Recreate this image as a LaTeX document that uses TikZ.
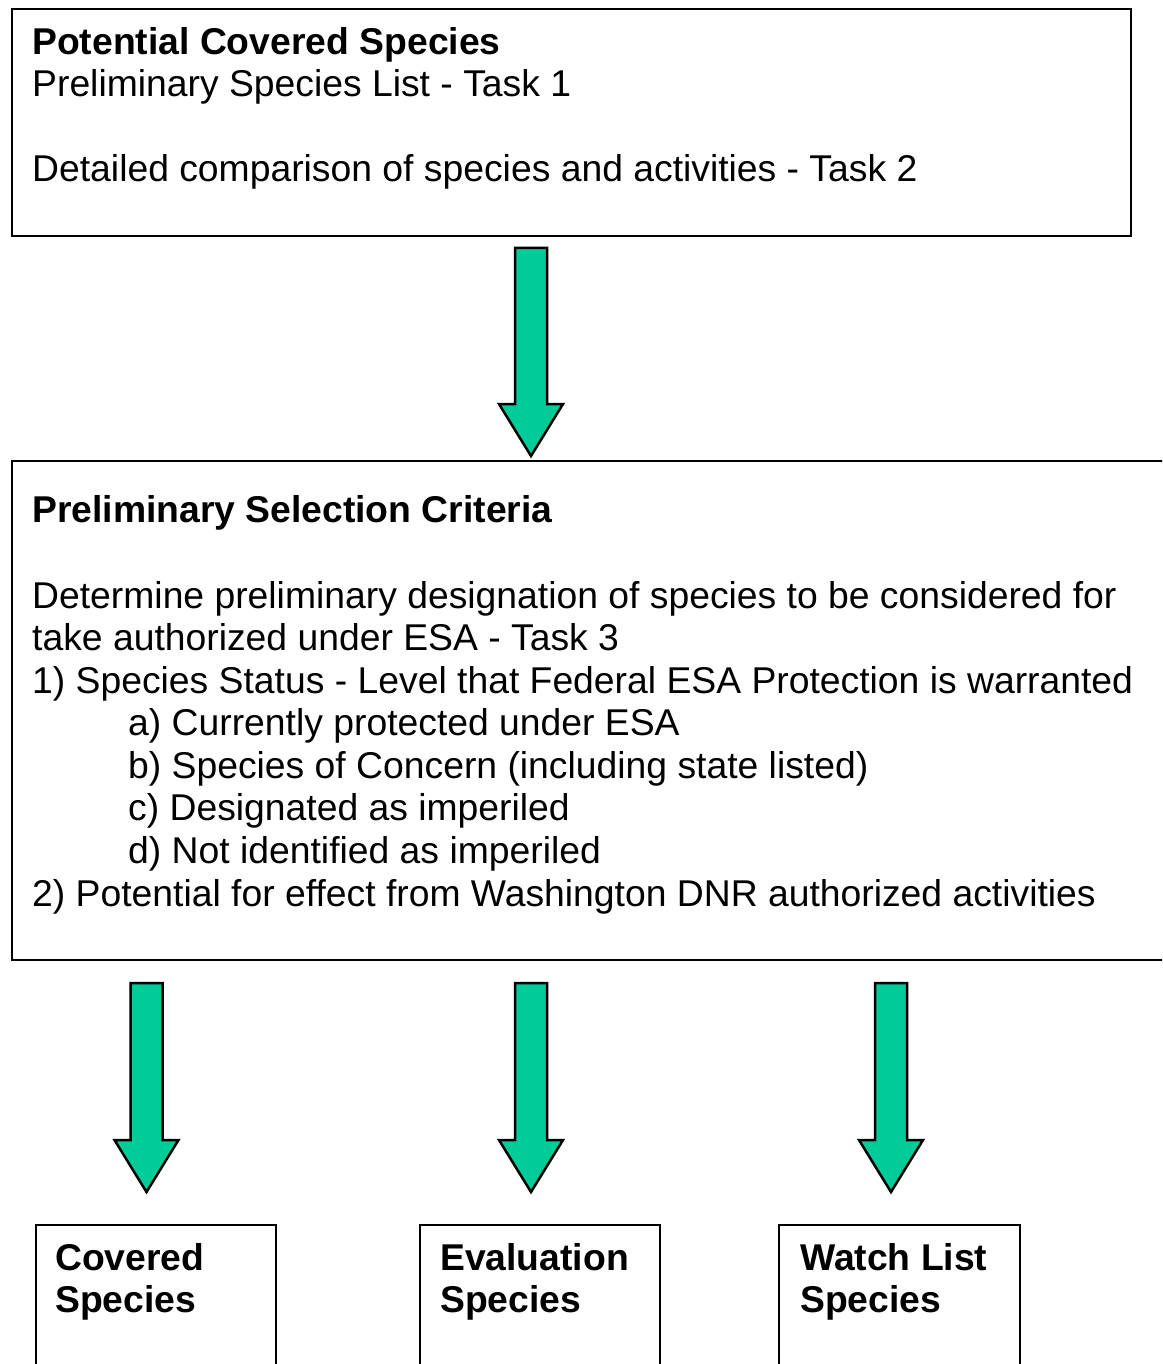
\documentclass[tikz,border=0pt]{standalone}
\usepackage{fontspec}
\setmainfont{Liberation Sans}
\definecolor{arrowgreen}{RGB}{0,204,153}
\tikzset{
  box/.style={draw=black, line width=2.3pt, fill=white},
  txt/.style={anchor=base west, inner sep=0pt, font=\fontsize{37.3}{42.6}\selectfont},
  btxt/.style={txt, font=\fontsize{37.3}{42.6}\selectfont\bfseries},
  blockarrow/.style={draw=black, line width=2.5pt, fill=arrowgreen, line join=miter}
}
\newcommand\greenarrow[4]{% x, ytop, ybase, ytip
  \path[blockarrow] (#1-16,#2) -- (#1+16,#2) -- (#1+16,#3) -- (#1+32,#3) -- (#1,#4) -- (#1-32,#3) -- (#1-16,#3) -- cycle;}
\begin{document}
\begin{tikzpicture}[x=1pt,y=-1pt]
\useasboundingbox (0,0) rectangle (1162,1364);
\clip (0,0) rectangle (1162,1364);
% top box
\node[box, anchor=north west, minimum width=1119pt, minimum height=227pt, inner sep=0pt] (topbox) at (11,8) {};
\node[btxt] (t1) at (32,55) {Potential Covered Species};
\node[txt] (t2) at (32,97) {Preliminary Species List - Task 1};
\node[txt] (t3) at (32,182) {Detailed comparison of species and activities - Task 2};
% arrow 1
\greenarrow{531}{248}{404}{456}
% second box
\node[box, anchor=north west, minimum width=1180pt, minimum height=499pt, inner sep=0pt] (midbox) at (11,460) {};
\node[btxt] (m1) at (32,522) {Preliminary Selection Criteria};
\node[txt] (m2) at (32,608) {Determine preliminary designation of species to be considered for};
\node[txt] (m3) at (32,650) {take authorized under ESA - Task 3};
\node[txt] (m4) at (32,693) {1) Species Status - Level that Federal ESA Protection is warranted};
\node[txt] (m5) at (128,735) {a) Currently protected under ESA};
\node[txt] (m6) at (128,778) {b) Species of Concern (including state listed)};
\node[txt] (m7) at (128,820) {c) Designated as imperiled};
\node[txt] (m8) at (128,863) {d) Not identified as imperiled};
\node[txt] (m9) at (32,906) {2) Potential for effect from Washington DNR authorized activities};
% bottom arrows
\greenarrow{146.5}{983}{1140}{1192}
\greenarrow{531}{983}{1140}{1192}
\greenarrow{891}{983}{1140}{1192}
% bottom boxes
\node[box, anchor=north west, minimum width=240pt, minimum height=180pt, inner sep=0pt] (cov) at (35,1224) {};
\node[box, anchor=north west, minimum width=240pt, minimum height=180pt, inner sep=0pt] (eva) at (419,1224) {};
\node[box, anchor=north west, minimum width=241pt, minimum height=180pt, inner sep=0pt] (wat) at (778,1224) {};
\node[btxt] (c1) at (55,1270) {Covered};
\node[btxt] (c2) at (55,1312) {Species};
\node[btxt] (e1) at (440,1270) {Evaluation};
\node[btxt] (e2) at (440,1312) {Species};
\node[btxt] (w1) at (800,1270) {Watch List};
\node[btxt] (w2) at (800,1312) {Species};
\end{tikzpicture}
\end{document}
